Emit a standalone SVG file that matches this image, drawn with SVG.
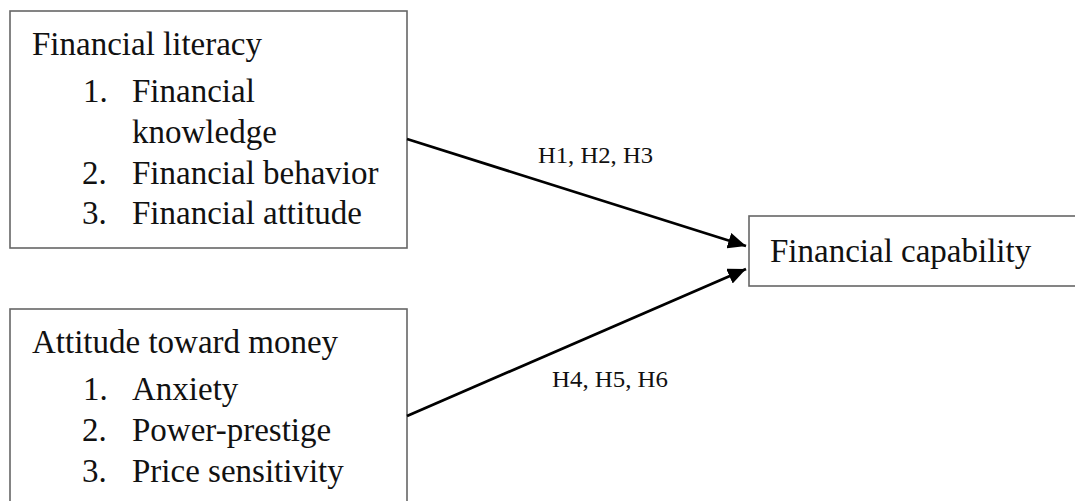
<svg xmlns="http://www.w3.org/2000/svg" width="1075" height="501" viewBox="0 0 1075 501">
<style>
.box{fill:#fff;stroke:#666;stroke-width:1.6}
.t{font-family:"Liberation Serif","Times New Roman",serif;font-size:33px;fill:#111}
.lbl{font-family:"Liberation Serif","Times New Roman",serif;font-size:24px;fill:#111}
.edge{stroke:#000;stroke-width:2.8;fill:none}
</style>
<defs>
<marker id="ah" markerUnits="userSpaceOnUse" markerWidth="20" markerHeight="16" refX="18" refY="8" orient="auto">
<path d="M0,0 L18,8 L0,16 z" fill="#000"/>
</marker>
</defs>
<rect width="1075" height="501" fill="#fff"/>
<g id="node-literacy">
<rect class="box" x="10" y="11" width="397" height="237"/>
<text class="t" x="32" y="55">Financial literacy</text>
<text class="t" x="83" y="102">1.</text>
<text class="t" x="132" y="102">Financial</text>
<text class="t" x="132" y="143">knowledge</text>
<text class="t" x="82" y="184">2.</text>
<text class="t" x="132" y="184">Financial behavior</text>
<text class="t" x="82" y="224">3.</text>
<text class="t" x="132" y="224">Financial attitude</text>
</g>
<g id="node-attitude">
<rect class="box" x="10" y="309" width="397" height="220"/>
<text class="t" x="32" y="353">Attitude toward money</text>
<text class="t" x="83" y="400">1.</text>
<text class="t" x="132" y="400">Anxiety</text>
<text class="t" x="82" y="441">2.</text>
<text class="t" x="132" y="441">Power-prestige</text>
<text class="t" x="82" y="482">3.</text>
<text class="t" x="132" y="482">Price sensitivity</text>
</g>
<g id="node-capability">
<rect class="box" x="749" y="216" width="340" height="70"/>
<text class="t" x="770" y="262">Financial capability</text>
</g>
<g id="connectors">
<line class="edge" x1="407" y1="139" x2="746" y2="246" marker-end="url(#ah)"/>
<line class="edge" x1="407" y1="416" x2="746" y2="269" marker-end="url(#ah)"/>
<text class="lbl" x="538" y="163" textLength="115" lengthAdjust="spacingAndGlyphs">H1, H2, H3</text>
<text class="lbl" x="552" y="387" textLength="116" lengthAdjust="spacingAndGlyphs">H4, H5, H6</text>
</g>
</svg>
